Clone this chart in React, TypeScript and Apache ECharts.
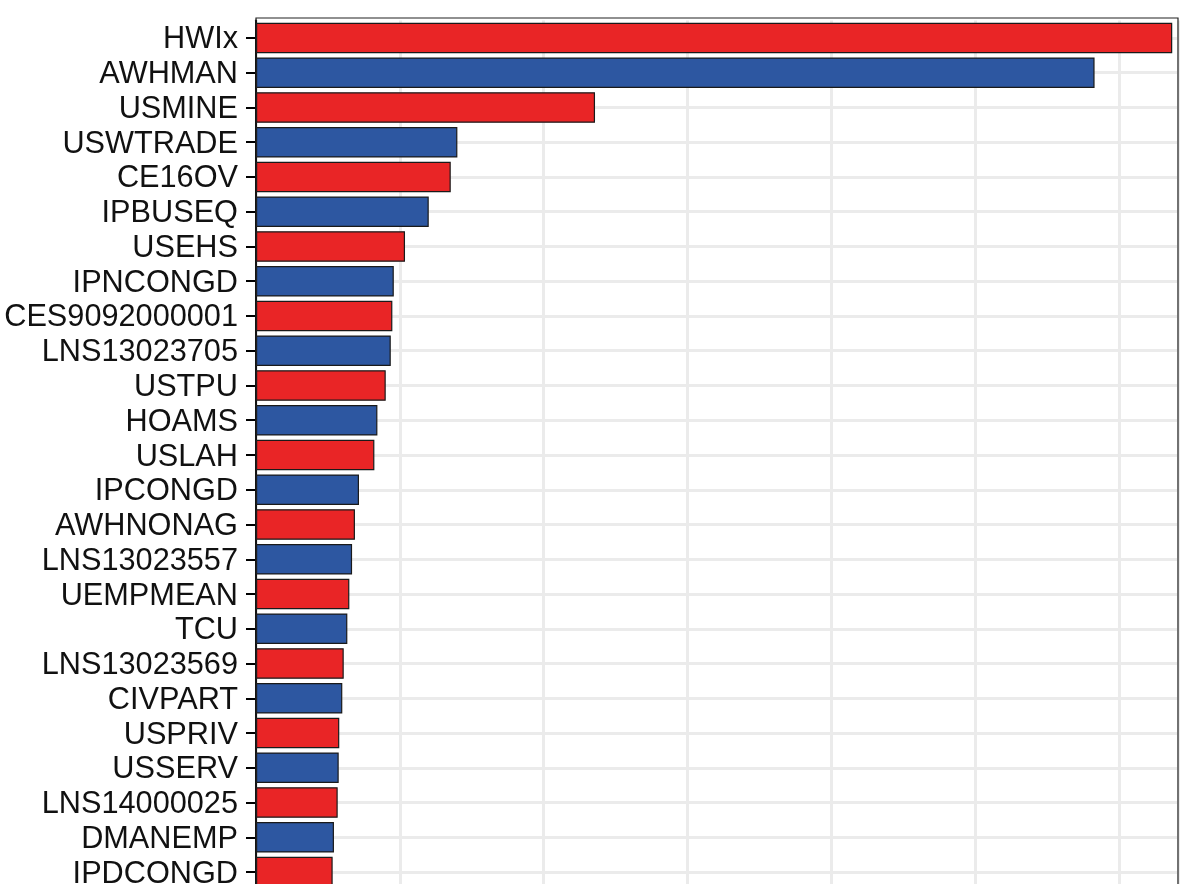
import React, { useEffect, useRef } from "react";
import * as echarts from "echarts";

const categories = [
  "HWIx", "AWHMAN", "USMINE", "USWTRADE", "CE16OV", "IPBUSEQ", "USEHS",
  "IPNCONGD", "CES9092000001", "LNS13023705", "USTPU", "HOAMS", "USLAH",
  "IPCONGD", "AWHNONAG", "LNS13023557", "UEMPMEAN", "TCU", "LNS13023569",
  "CIVPART", "USPRIV", "USSERV", "LNS14000025", "DMANEMP", "IPDCONGD",
];
const values = [
  6.37, 5.83, 2.357, 1.40, 1.354, 1.201, 1.036,
  0.958, 0.948, 0.937, 0.902, 0.844, 0.823,
  0.716, 0.688, 0.668, 0.649, 0.635, 0.610,
  0.600, 0.579, 0.575, 0.568, 0.542, 0.533,
];
const groups = [
  "A", "B", "A", "B", "A", "B", "A", "B", "A", "B", "A", "B", "A",
  "B", "A", "B", "A", "B", "A", "B", "A", "B", "A", "B", "A",
];
const groupColors: Record<string, string> = { A: "#E92526", B: "#2D57A1" };
const xMax = 6.41;

export default function App() {
  const ref = useRef<HTMLDivElement>(null);
  useEffect(() => {
    if (!ref.current) return;
    const chart = echarts.init(ref.current, undefined, { renderer: "svg" });
    chart.setOption({
      animation: false,
      grid: {
        left: 256,
        right: 12,
        top: 20.6,
        bottom: 30.6,
        outerBoundsMode: "none",
        containLabel: false,
      },
      xAxis: {
        type: "value",
        min: 0,
        max: xMax,
        interval: 1,
        axisLabel: { show: false },
        axisTick: { show: false },
        axisLine: { show: false },
        splitLine: { show: true, lineStyle: { color: "#EBEBEB", width: 3 } },
      },
      yAxis: {
        type: "category",
        data: categories,
        inverse: true,
        axisLine: { show: true, lineStyle: { color: "#000", width: 2 } },
        axisTick: {
          show: true,
          interval: 0,
          alignWithLabel: true,
          length: 10,
          lineStyle: { color: "#000", width: 2 },
        },
        axisLabel: {
          interval: 0,
          fontSize: 30.7,
          color: "#111",
          margin: 18,
          fontFamily: "Liberation Sans, Arial, sans-serif",
        },
        splitLine: { show: false },
      },
      series: [
        {
          type: "bar",
          z: 2,
          barCategoryGap: "12%",
          data: values.map((v, i) => ({
            value: v,
            itemStyle: { color: groupColors[groups[i]] },
          })),
          itemStyle: { borderColor: "#1a1a1a", borderWidth: 1.2 },
          markLine: {
            silent: true,
            z: 1,
            symbol: ["none", "none"],
            label: { show: false },
            lineStyle: { color: "#EBEBEB", width: 3, type: "solid" },
            data: categories.map((c) => ({ yAxis: c })),
          },
        },
      ],
      graphic: [
        {
          type: "rect",
          z: 10,
          silent: true,
          shape: { x: 256, y: 18, width: 922, height: 1000 },
          style: { fill: "none", stroke: "#222", lineWidth: 1.2 },
        },
      ],
    });
    return () => chart.dispose();
  }, []);
  return (
    <div
      ref={ref}
      style={{ position: "fixed", left: 0, top: 0, width: 1190, height: 920 }}
    />
  );
}
